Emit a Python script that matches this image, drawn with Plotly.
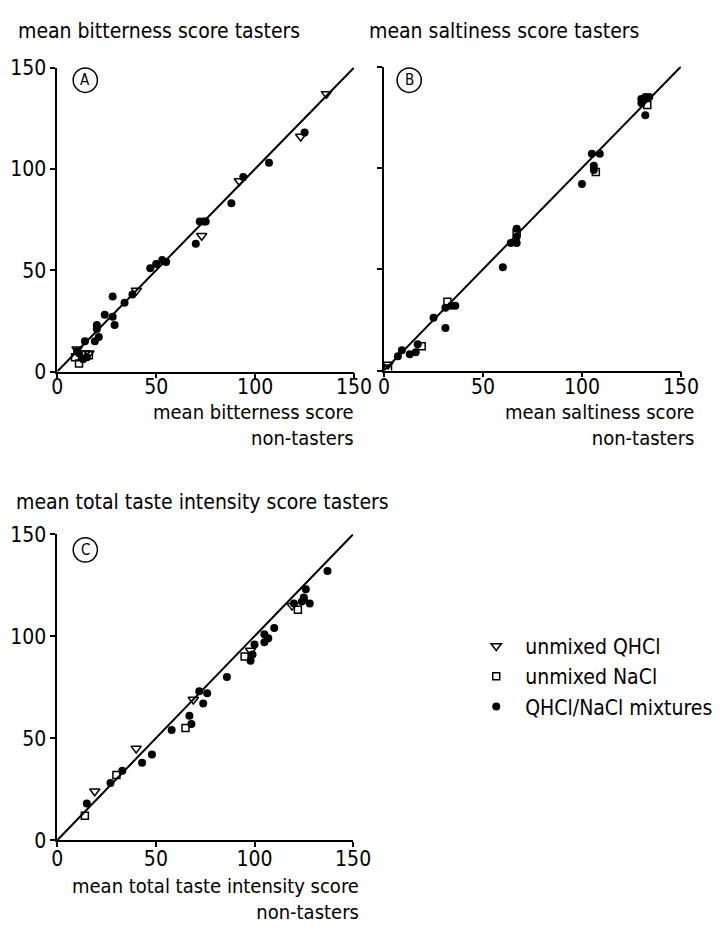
import plotly.graph_objects as go

W, H = 726, 935
FONT = "Liberation Sans Narrow, DejaVu Sans Condensed, Liberation Sans, sans-serif"

# ---- Panel A: bitterness (x = non-tasters, y = tasters)
a_q_x = [136, 123, 92, 73, 40, 10, 14, 16]
a_q_y = [137, 116, 94, 67, 40, 11, 9, 9]
a_n_x = [9, 11, 16]
a_n_y = [7, 4, 8]
a_m_x = [125, 107, 94, 88, 72, 74, 75, 70, 47, 50, 53, 55, 38, 34, 28, 28, 29, 24, 20, 20, 21, 19, 14, 11, 15, 13, 10]
a_m_y = [118, 103, 96, 83, 74, 74, 74, 63, 51, 53, 55, 54, 38, 34, 37, 27, 23, 28, 23, 21, 17, 15, 15, 9, 7, 6, 10]

# ---- Panel B: saltiness
b_q_x = [2]
b_q_y = [3]
b_n_x = [2, 19, 32, 67, 107, 133]
b_n_y = [1, 12, 34, 68, 98, 131]
b_m_x = [130, 132, 134, 130, 132, 105, 109, 106, 106, 100, 67, 67, 64, 67, 60, 31, 34, 36, 31, 25, 17, 16, 13, 9, 7]
b_m_y = [134, 135, 135, 132, 126, 107, 107, 101, 99, 92, 70, 66, 63, 63, 51, 31, 32, 32, 21, 26, 13, 9, 8, 10, 7]

# ---- Panel C: total taste intensity
c_q_x = [119, 98, 69, 40, 19]
c_q_y = [115, 93, 69, 45, 24]
c_n_x = [122, 95, 65, 30, 14]
c_n_y = [113, 90, 55, 32, 12]
c_m_x = [137, 126, 125, 124, 125, 128, 120, 110, 105, 105, 107, 100, 99, 98, 86, 72, 76, 74, 67, 68, 58, 48, 43, 33, 27, 15]
c_m_y = [132, 123, 119, 117, 118, 116, 116, 104, 101, 97, 99, 96, 91, 88, 80, 73, 72, 67, 61, 57, 54, 42, 38, 34, 28, 18]

ticks = [0, 50, 100, 150]
line_xy = [0, 150]

series_names = ["unmixed QHCl", "unmixed NaCl", "QHCl/NaCl mixtures"]


def px_x(p):
    return p / W


def px_y(p):
    return 1 - p / H


fig = go.Figure()

panels = [
    ("x", "y", (a_q_x, a_q_y), (a_n_x, a_n_y), (a_m_x, a_m_y)),
    ("x2", "y2", (b_q_x, b_q_y), (b_n_x, b_n_y), (b_m_x, b_m_y)),
    ("x3", "y3", (c_q_x, c_q_y), (c_n_x, c_n_y), (c_m_x, c_m_y)),
]

for i, (xa, ya, q, n, m) in enumerate(panels):
    fig.add_trace(go.Scatter(x=line_xy, y=line_xy, mode="lines", xaxis=xa, yaxis=ya,
                             line=dict(color="black", width=2), showlegend=False, hoverinfo="skip"))
    fig.add_trace(go.Scatter(x=m[0], y=m[1], mode="markers", xaxis=xa, yaxis=ya,
                             name=series_names[2], legendgroup="m", showlegend=(i == 0),
                             marker=dict(symbol="circle", size=8, color="black")))
    fig.add_trace(go.Scatter(x=n[0], y=n[1], mode="markers", xaxis=xa, yaxis=ya,
                             name=series_names[1], legendgroup="n", showlegend=(i == 0),
                             marker=dict(symbol="square-open", size=7, color="black", line=dict(width=1.5))))
    fig.add_trace(go.Scatter(x=q[0], y=q[1], mode="markers", xaxis=xa, yaxis=ya,
                             name=series_names[0], legendgroup="q", showlegend=(i == 0),
                             marker=dict(symbol="triangle-down-open", size=9, color="black", line=dict(width=1.5))))

axis_common = dict(range=[0, 150], tickvals=ticks, showline=True, linecolor="black", linewidth=1.5,
                   ticks="outside", ticklen=5, tickwidth=1.5, tickcolor="black", showgrid=False,
                   zeroline=False, tickfont=dict(family=FONT, size=21, color="black"))

fig.update_layout(
    width=W, height=H, margin=dict(l=0, r=0, t=0, b=0),
    paper_bgcolor="white", plot_bgcolor="white",
    font=dict(family=FONT, color="black"),
    xaxis=dict(domain=[px_x(53), px_x(360)], anchor="y", ticklabelstandoff=-9, **axis_common),
    yaxis=dict(domain=[px_y(369), px_y(57)], anchor="x", **axis_common),
    xaxis2=dict(domain=[px_x(391), px_x(698)], anchor="y2", ticklabelstandoff=-9, **axis_common),
    yaxis2=dict(domain=[px_y(368), px_y(56)], anchor="x2", showticklabels=False, **axis_common),
    xaxis3=dict(domain=[px_x(53), px_x(359)], anchor="y3", ticklabelstandoff=-6, **axis_common),
    yaxis3=dict(domain=[px_y(850), px_y(536)], anchor="x3", **axis_common),
    showlegend=True,
    legend=dict(x=px_x(477), y=px_y(630), xanchor="left", yanchor="top",
                traceorder="reversed", font=dict(family=FONT, size=21, color="black"),
                bgcolor="rgba(0,0,0,0)", itemwidth=48, tracegroupgap=8),
)

# (text, x px, y px, anchor, font size)
annos = [
    ("mean bitterness score tasters", 10, 20, "left", 21),
    ("mean saltiness score tasters", 373, 20, "left", 21),
    ("mean total taste intensity score tasters", 8, 503, "left", 21),
    ("mean bitterness score<br>non-tasters", 362, 424, "right", 20),
    ("mean saltiness score<br>non-tasters", 714, 424, "right", 20),
    ("mean total taste intensity score<br>non-tasters", 367, 910, "right", 20),
]
for text, x, y, al, fs in annos:
    fig.add_annotation(text=text, x=px_x(x), y=px_y(y), xref="paper", yref="paper",
                       xanchor=al, yanchor="middle", align=al, showarrow=False,
                       font=dict(family=FONT, size=fs, color="black"))

for letter, cx, cy in [("A", 82, 70), ("B", 417, 70), ("C", 82, 552)]:
    r = 12.5
    fig.add_shape(type="circle", xref="paper", yref="paper",
                  x0=px_x(cx - r), x1=px_x(cx + r), y0=px_y(cy + r), y1=px_y(cy - r),
                  line=dict(color="black", width=1.5))
    fig.add_annotation(text=letter, x=px_x(cx), y=px_y(cy), xref="paper", yref="paper",
                       showarrow=False, xanchor="center", yanchor="middle",
                       font=dict(family=FONT, size=15, color="black"))

fig.write_html("out.html")
